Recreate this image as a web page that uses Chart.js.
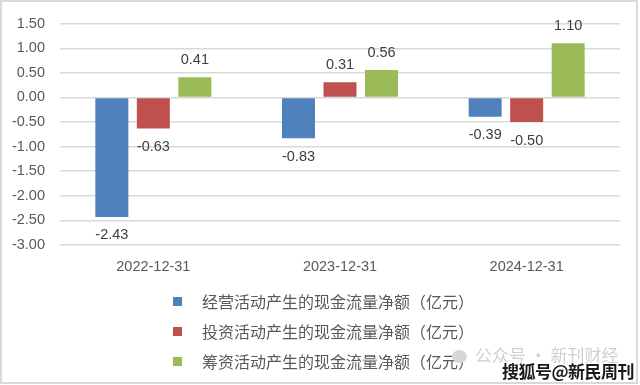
<!DOCTYPE html>
<html>
<head>
<meta charset="utf-8">
<script src="https://cdn.jsdelivr.net/npm/chart.js@4/dist/chart.umd.min.js"></script>
<style>
  html, body { margin: 0; padding: 0; background: #fff; }
  #wrap { position: relative; width: 640px; height: 385px; }
  .wm1 { position: absolute; left: 452px; top: 342px; font: 17px "Noto Sans CJK SC"; color: #d0d0d0; white-space: nowrap; }
  .wm1 .ico { display: inline-block; width: 15px; height: 13px; border-radius: 50%; background: #d6d6d6; vertical-align: -1px; margin-right: 8px; }
  .wm2 { position: absolute; left: 502px; top: 358px; font: bold 17px "Noto Sans CJK SC"; color: #1a1a1a; white-space: nowrap;
         text-shadow: 1px 1px 0 #fff, -1px -1px 0 #fff, 1px -1px 0 #fff, -1px 1px 0 #fff; letter-spacing: -0.5px; }
</style>
</head>
<body>
<div id="wrap">
  <canvas id="cashChart" width="640" height="385"></canvas>
  <div class="wm1"><span class="ico"></span>公众号 · 新刊财经</div>
  <div class="wm2">搜狐号@新民周刊</div>
</div>
<script>
// --- 数据 ---
const periods = ['2022-12-31', '2023-12-31', '2024-12-31'];
const seriesNames = [
    '经营活动产生的现金流量净额（亿元）',
    '投资活动产生的现金流量净额（亿元）',
    '筹资活动产生的现金流量净额（亿元）'
];
const operating = [-2.43, -0.83, -0.39];
const investing = [-0.63, 0.31, -0.50];
const financing = [0.41, 0.56, 1.10];
const seriesColors = ['#4F81BD', '#C0504D', '#9BBB59'];

const numFont = '"Liberation Sans", Arial, sans-serif';
const textGray = '#595959';

// 数值标签：正数在柱顶上方，负数在柱底下方
const valueLabels = {
    id: 'valueLabels',
    afterDatasetsDraw(chart) {
        const ctx = chart.ctx;
        ctx.save();
        ctx.font = '14.5px ' + numFont;
        ctx.fillStyle = '#404040';
        ctx.textAlign = 'center';
        ctx.textBaseline = 'middle';
        chart.data.datasets.forEach((ds, i) => {
            chart.getDatasetMeta(i).data.forEach((bar, j) => {
                const v = ds.data[j];
                const y = v >= 0 ? bar.y - 17 : bar.y + 18.5;
                ctx.fillText(v.toFixed(2), bar.x, y);
            });
        });
        ctx.restore();
    }
};

// 竖排图例 + 外框
const sideLegend = {
    id: 'sideLegend',
    beforeDraw(chart) {
        const ctx = chart.ctx;
        ctx.save();
        ctx.strokeStyle = '#d9d9d9';
        ctx.lineWidth = 2;
        ctx.strokeRect(1, 1, 636, 382);
        ctx.restore();
    },
    afterDraw(chart) {
        const ctx = chart.ctx;
        ctx.save();
        ctx.font = '16px "Noto Sans CJK SC"';
        ctx.textBaseline = 'middle';
        chart.data.datasets.forEach((ds, i) => {
            const y = 301.5 + i * 30;
            ctx.fillStyle = ds.backgroundColor;
            ctx.fillRect(173, y - 4.5, 9, 9);
            ctx.fillStyle = textGray;
            ctx.fillText(ds.label, 202, y);
        });
        ctx.restore();
    }
};

const datasets = [operating, investing, financing].map((vals, i) => ({
    label: seriesNames[i],
    data: vals,
    backgroundColor: seriesColors[i],
    categoryPercentage: 0.667,
    barPercentage: 0.795
}));

new Chart(document.getElementById('cashChart'), {
    type: 'bar',
    data: { labels: periods, datasets: datasets },
    options: {
        responsive: false,
        animation: false,
        layout: { padding: { top: 20, right: 20, bottom: 100, left: 0 } },
        plugins: {
            legend: { display: false },
            tooltip: { enabled: false }
        },
        scales: {
            x: {
                grid: { display: false, drawTicks: false },
                border: { display: false },
                ticks: { color: textGray, font: { size: 14.5, family: numFont }, padding: 13 },
                afterFit(scale) { scale.height = 40; }
            },
            y: {
                min: -3, max: 1.5,
                grid: { color: '#d9d9d9', lineWidth: 1.5, drawTicks: false },
                border: { display: false },
                ticks: {
                    stepSize: 0.5,
                    color: textGray,
                    font: { size: 14.5, family: numFont },
                    padding: 15,
                    callback: v => v.toFixed(2)
                },
                afterFit(scale) { scale.width = 60; }
            }
        }
    },
    plugins: [valueLabels, sideLegend]
});
</script>
</body>
</html>
